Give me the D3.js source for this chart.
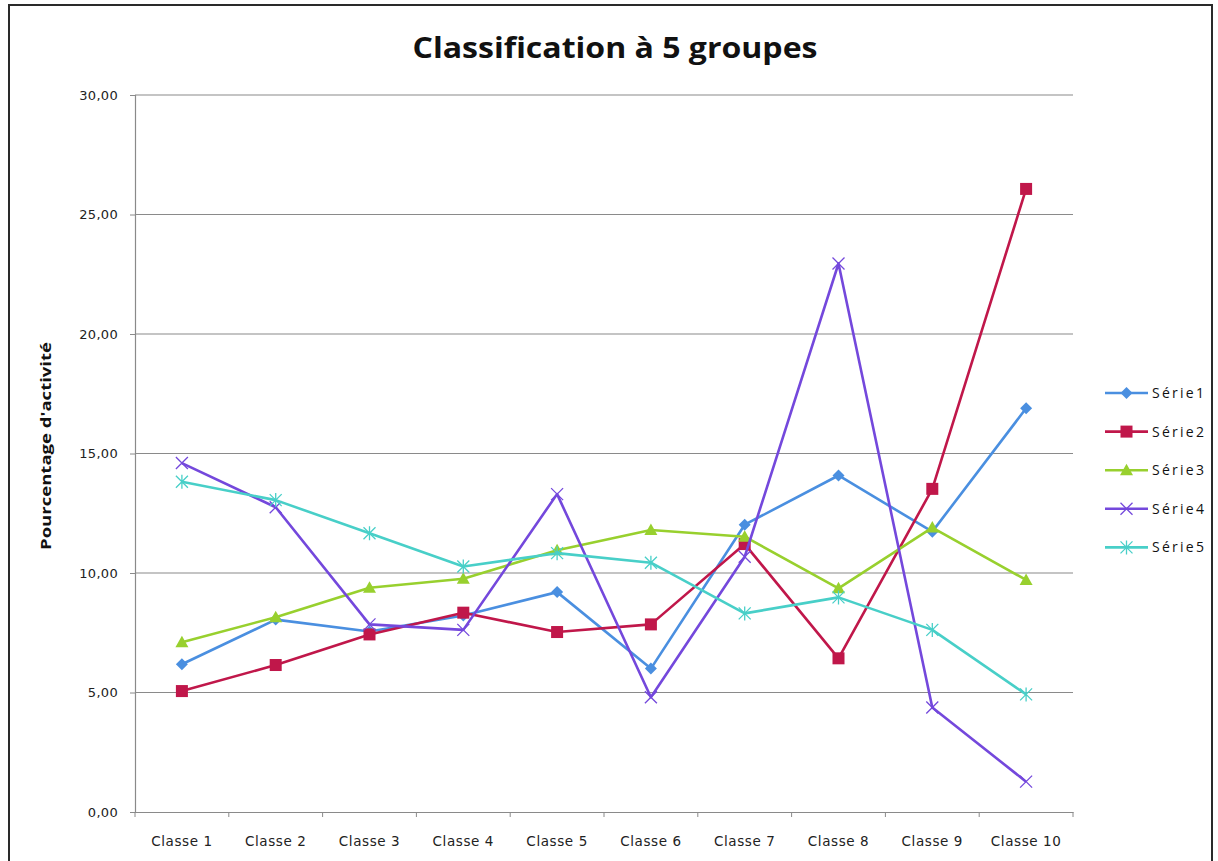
<!DOCTYPE html>
<html><head><meta charset="utf-8">
<script src="https://cdn.jsdelivr.net/npm/d3@7"></script>
<style>body{margin:0;background:#fff}svg{display:block}</style>
</head><body>
<script>
const title = "Classification à 5 groupes";
const yTitle = "Pourcentage d'activité";
const categories = ["Classe 1","Classe 2","Classe 3","Classe 4","Classe 5","Classe 6","Classe 7","Classe 8","Classe 9","Classe 10"];
const seriesNames = ["Série1","Série2","Série3","Série4","Série5"];
const serie1 = [6.18, 8.05, 7.55, 8.22, 9.20, 6.00, 12.02, 14.08, 11.73, 16.89];
const serie2 = [5.06, 6.15, 7.43, 8.34, 7.53, 7.85, 11.21, 6.43, 13.52, 26.07];
const serie3 = [7.10, 8.15, 9.38, 9.76, 10.95, 11.80, 11.52, 9.36, 11.90, 9.71];
const serie4 = [14.60, 12.75, 7.85, 7.62, 13.30, 4.80, 10.68, 22.95, 4.37, 1.27];
const serie5 = [13.82, 13.05, 11.66, 10.27, 10.83, 10.43, 8.31, 8.98, 7.62, 4.92];
const yTicks = [0,5,10,15,20,25,30];
const colors = ["#4A8FE0","#C0174A","#98D02E","#7448DC","#48CFC8"];
const markers = ["diamond","square","triangle","x","star"];

(function(){
const W = 1218, H = 861;
const svg = d3.select("body").append("svg").attr("width", W).attr("height", H);

// outer frame
svg.append("rect").attr("x",9).attr("y",5).attr("width",1203).attr("height",H+10)
  .attr("fill","none").attr("stroke","#2a2a2a").attr("stroke-width",2);

const pLeft = 135, pRight = 1073, pTop = 95, pBottom = 812;
const x = d3.scaleBand().domain(categories).range([pLeft, pRight]).padding(0);
const y = d3.scaleLinear().domain([0,30]).range([pBottom, pTop]);
const tickFont = "'DejaVu Sans','Noto Sans',sans-serif";

// gridlines
svg.append("g").selectAll("line").data(yTicks.filter(d=>d>0)).join("line")
  .attr("x1", pLeft).attr("x2", pRight).attr("y1", d=>y(d)).attr("y2", d=>y(d))
  .attr("stroke","#8a8a8a").attr("stroke-width",1.2);

// y axis
const yAxis = d3.axisLeft(y).tickValues(yTicks).tickSize(5).tickPadding(12)
  .tickFormat(d => d3.format(".2f")(d).replace(".", ","));
const gy = svg.append("g").attr("transform",`translate(${pLeft},0)`).call(yAxis);
gy.select(".domain").attr("stroke","#8a8a8a").attr("stroke-width",1.2);
gy.selectAll(".tick line").attr("stroke","#8a8a8a");
gy.selectAll("text").attr("font-family",tickFont).attr("font-size",13).attr("fill","#222").attr("letter-spacing",0.3);

// x axis
const xAxis = d3.axisBottom(x).tickSize(0).tickPadding(24);
const gx = svg.append("g").attr("transform",`translate(0,${pBottom})`).call(xAxis);
gx.select(".domain").attr("stroke","#8a8a8a").attr("stroke-width",1.2);
gx.selectAll("text").attr("font-family",tickFont).attr("font-size",13.5).attr("fill","#222").attr("letter-spacing",0.6);
gx.append("g").selectAll("line").data(d3.range(categories.length+1)).join("line")
  .attr("x1", i => pLeft + i*x.step()).attr("x2", i => pLeft + i*x.step())
  .attr("y1",0).attr("y2",5).attr("stroke","#8a8a8a");

// title
svg.append("text").attr("x", 615).attr("y", 58).attr("text-anchor","middle")
  .attr("font-family","'Open Sans','Noto Sans',sans-serif").attr("font-weight",700)
  .attr("font-size",28).attr("fill","#111").attr("textLength",405).attr("lengthAdjust","spacingAndGlyphs").text(title);

// y title
svg.append("text").attr("transform","translate(51,446) rotate(-90)").attr("text-anchor","middle")
  .attr("font-family","'Open Sans','Noto Sans',sans-serif").attr("font-weight",700)
  .attr("font-size",15).attr("fill","#111").attr("textLength",208).attr("lengthAdjust","spacingAndGlyphs").text(yTitle);

function drawMarker(g, type, color, cx, cy) {
  if (type === "diamond") {
    g.append("path").attr("d", `M${cx},${cy-6}L${cx+6},${cy}L${cx},${cy+6}L${cx-6},${cy}Z`).attr("fill",color);
  } else if (type === "square") {
    g.append("rect").attr("x",cx-6).attr("y",cy-6).attr("width",12).attr("height",12).attr("fill",color);
  } else if (type === "triangle") {
    g.append("path").attr("d", `M${cx},${cy-6.5}L${cx+6.5},${cy+5}L${cx-6.5},${cy+5}Z`).attr("fill",color);
  } else if (type === "x") {
    g.append("path").attr("d", `M${cx-6},${cy-6}L${cx+6},${cy+6}M${cx-6},${cy+6}L${cx+6},${cy-6}`)
      .attr("stroke",color).attr("stroke-width",1.3).attr("fill","none");
  } else if (type === "star") {
    g.append("path").attr("d", `M${cx-6},${cy-6}L${cx+6},${cy+6}M${cx-6},${cy+6}L${cx+6},${cy-6}M${cx},${cy-7}L${cx},${cy+7}`)
      .attr("stroke",color).attr("stroke-width",1.3).attr("fill","none");
  }
}

const allSeries = [serie1, serie2, serie3, serie4, serie5];
const line = d3.line().x((d,i)=> x(categories[i]) + x.bandwidth()/2).y(d=>y(d));
allSeries.forEach((vals, k) => {
  const g = svg.append("g");
  g.append("path").datum(vals).attr("d", line).attr("fill","none")
    .attr("stroke", colors[k]).attr("stroke-width",2.6).attr("stroke-linejoin","round");
  vals.forEach((v,i) => drawMarker(g, markers[k], colors[k], x(categories[i]) + x.bandwidth()/2, y(v)));
});

// legend
seriesNames.forEach((name, k) => {
  const ly = 393 + k*38.6;
  const g = svg.append("g");
  g.append("line").attr("x1",1105).attr("x2",1148).attr("y1",ly).attr("y2",ly)
    .attr("stroke",colors[k]).attr("stroke-width",2.6);
  drawMarker(g, markers[k], colors[k], 1126.5, ly);
  g.append("text").attr("x",1152).attr("y",ly+5).attr("font-family","'Open Sans','Noto Sans',sans-serif")
    .attr("font-size",14).attr("fill","#111").attr("textLength",52).attr("lengthAdjust","spacing").text(name);
});
})();
</script>
</body></html>
